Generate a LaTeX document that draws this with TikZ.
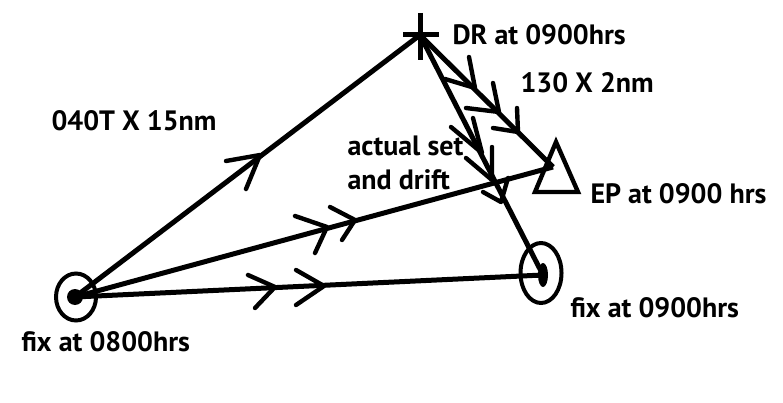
\documentclass[tikz,border=0pt]{standalone}
\usepackage{fontspec}
\setmainfont{PT Sans}
\usetikzlibrary{positioning,shapes.geometric}
\tikzset{every path/.style={black,line width=5pt},
  chevron/.style={line width=4.4pt,line cap=round,line join=round},
  fixring/.style={draw,ellipse,minimum width=0pt,inner sep=0pt,line width=4pt},
  label/.style={font=\fontsize{28}{34}\selectfont\bfseries,anchor=west,inner sep=0pt,align=left}}

\begin{document}
\begin{tikzpicture}[x=1pt,y=-1pt]
  \useasboundingbox (0,0) rectangle (783,403);
  % texts
  \node[label] (course) at (49,121) {040T X 15nm};
  \node[label] (dr)     at (450,35) {DR at 0900hrs};
  \node[label] (leg)    at (518,83) {130 X 2nm};
  \node[label] (set)    at (345,163) {actual set\\and drift};
  \node[label] (ep)     at (588,194) {EP at 0900 hrs};
  \node[label] (fixb)   at (568,308) {fix at 0900hrs};
  \node[label] (fixa)   at (19,342) {fix at 0800hrs};
  % positions
  \coordinate (start) at (75,297);
  \coordinate (plot)  at (420,35);
  \coordinate (est)   at (553,167);
  \coordinate (end)   at (543,275);
  % fixes
  \node[fixring,minimum width=40pt,minimum height=47pt] (ringa) at (76,297) {};
  \node[fixring,minimum width=41pt,minimum height=60pt] (ringb) at (541,273) {};
  \fill (start) circle (8);
  \fill (end) ellipse (5 and 12);
  % DR cross
  \draw (403,35) -- (439,35) (420,13) -- (420,60);
  % EP triangle
  \draw[line width=4.4pt,line join=miter] (556,142) -- (578,192) -- (535,192) -- cycle;
  % tracks
  \draw (start) -- (plot);
  \draw (start) -- (est);
  \draw (start) -- (end);
  \draw (plot) -- (est);
  \draw (plot) -- (end);
  % chevrons
  \foreach \tip/\left/\right in {
    {260,155}/{226,161}/{246,189},
    {327,227}/{295,216}/{315,253},
    {355,220}/{330,207}/{342,240},
    {275,287}/{248,275}/{255,308},
    {324,286}/{296,270}/{296,305},
    {475,88}/{469,57}/{445,79},
    {499,112}/{493,83}/{466,108},
    {518,132}/{517,108}/{493,128},
    {482,153}/{473,118}/{451,127},
    {492,180}/{492,147}/{466,158},
    {501,202}/{508,178}/{483,192}}
    \draw[chevron] (\left) -- (\tip) -- (\right);
\end{tikzpicture}
\end{document}
